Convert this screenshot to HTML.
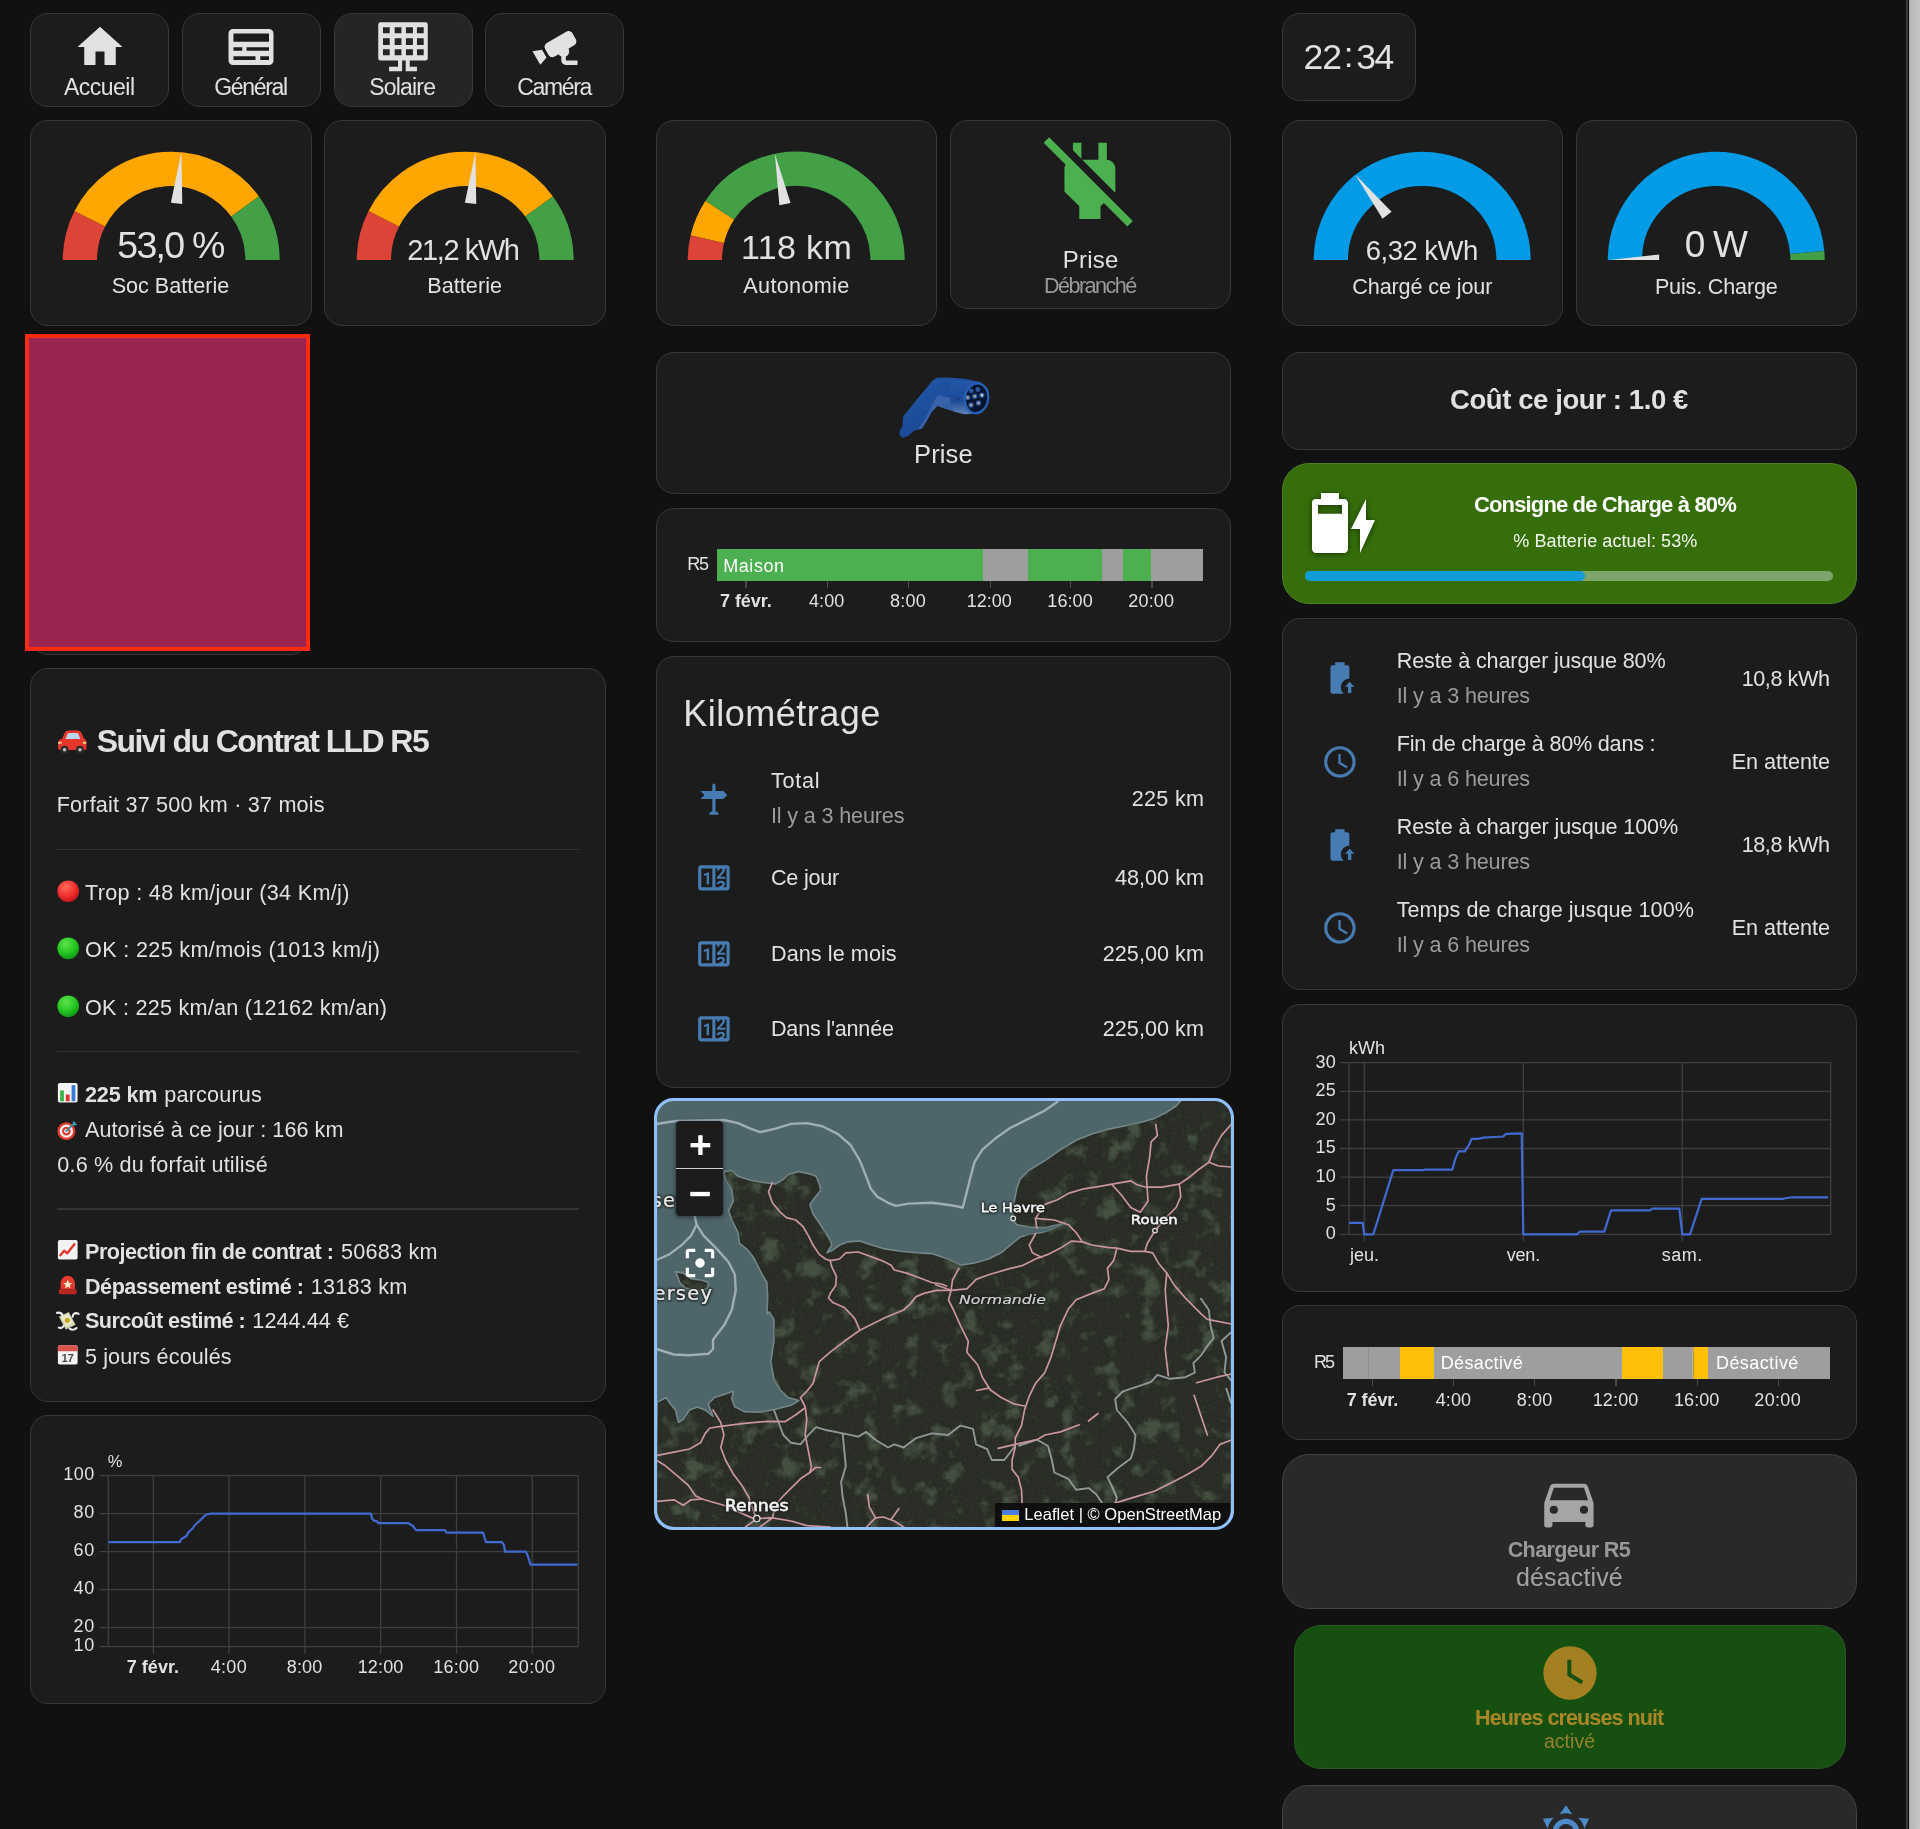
<!DOCTYPE html>
<html lang="fr"><head><meta charset="utf-8"><title>R5</title>
<style>
html{margin:0;padding:0;background:#111;}
body{margin:0;padding:0;background:transparent;will-change:transform;width:1920px;height:1829px;position:relative;overflow:hidden;font-family:"Liberation Sans",sans-serif;color:#e1e1e1;}
.card{position:absolute;box-sizing:border-box;background:#1c1c1c;border:1.5px solid #373737;border-radius:18px;}
.t{position:absolute;white-space:nowrap;}
.i{position:absolute;display:block;}
.abs{position:absolute;}
svg text{font-family:"Liberation Sans",sans-serif;}
svg .mapl text{font-family:"DejaVu Sans","Liberation Sans",sans-serif;}
.h{position:absolute;font-size:0;line-height:0;color:transparent;}
</style></head><body>

<div class="abs" style="left:1906px;top:0;width:1.5px;height:1829px;background:#3a3a3c"></div>
<div class="abs" style="left:1907.5px;top:0;width:1.5px;height:1829px;background:#050505"></div>
<div class="abs" style="left:1909px;top:0;width:11px;height:1829px;background:linear-gradient(90deg,#b0b0b0,#bdbdbd 40%,#c6c6c6)"></div>
<div class="card" style="left:30.0px;top:12.5px;width:139px;height:94px;"></div>
<div class="card" style="left:181.8px;top:12.5px;width:139px;height:94px;"></div>
<div class="card" style="left:333.6px;top:12.5px;width:139px;height:94px;background:#252525;"></div>
<div class="card" style="left:485.40000000000003px;top:12.5px;width:139px;height:94px;"></div>
<div class="card" style="left:1281.5px;top:12.5px;width:134px;height:88px;"></div>
<div class="card" style="left:30px;top:120px;width:281.5px;height:206px;"></div>
<div class="card" style="left:324.0px;top:120px;width:281.5px;height:206px;"></div>
<div class="card" style="left:655.5px;top:120px;width:281.5px;height:206px;"></div>
<div class="card" style="left:1281.5px;top:120px;width:281.5px;height:206px;"></div>
<div class="card" style="left:1575.5px;top:120px;width:281.5px;height:206px;"></div>
<div class="card" style="left:949.5px;top:120px;width:281.5px;height:188.5px;"></div>
<div class="card" style="left:30px;top:339.5px;width:279px;height:315.5px;"></div>
<div class="abs" style="left:24.8px;top:334px;width:285.4px;height:317px;box-sizing:border-box;background:#9b2552;border:4.4px solid #ff2a12"></div>
<div class="card" style="left:30px;top:667.5px;width:575.5px;height:734.5px;"></div>
<div class="card" style="left:30px;top:1415px;width:575.5px;height:289px;"></div>
<div class="card" style="left:655.5px;top:351.5px;width:575.5px;height:142px;"></div>
<div class="card" style="left:655.5px;top:507.5px;width:575.5px;height:134px;"></div>
<div class="card" style="left:655.5px;top:655.5px;width:575.5px;height:432px;"></div>
<div class="card" style="left:1281.5px;top:351.5px;width:575.5px;height:98px;"></div>
<div class="card" style="left:1281.5px;top:462.5px;width:575.5px;height:141.5px;background:#366f0a;border-color:#4d8126;border-radius:27px;"></div>
<div class="card" style="left:1281.5px;top:617.5px;width:575.5px;height:372px;"></div>
<div class="card" style="left:1281.5px;top:1003.5px;width:575.5px;height:288px;"></div>
<div class="card" style="left:1281.5px;top:1305px;width:575.5px;height:134.5px;"></div>
<div class="card" style="left:1281.5px;top:1453.5px;width:575.5px;height:155.5px;background:#292929;border-color:#434343;border-radius:27px;"></div>
<div class="card" style="left:1293.5px;top:1625px;width:552.5px;height:144px;background:#165011;border-color:#2c5527;border-radius:27px;"></div>
<div class="card" style="left:1281.5px;top:1785px;width:575.5px;height:120px;background:#292929;border-color:#434343;border-radius:27px;"></div>
<svg class="i" style="left:72.5px;top:20px;" width="54" height="54" viewBox="0 0 24 24"><path fill="#e1e1e1" d="M10,20V14H14V20H19V12H22L12,3L2,12H5V20H10Z"/></svg>
<svg class="i" style="left:224.3px;top:20px" width="54" height="54" viewBox="0 0 24 24"><path fill="#e1e1e1" fill-rule="evenodd" d="M4,4H20A2,2 0 0,1 22,6V18A2,2 0 0,1 20,20H4A2,2 0 0,1 2,18V6A2,2 0 0,1 4,4ZM4.2,6V9.7H20V6ZM4.2,12.1V13.7H8.1V12.1ZM10,12.1V13.7H20V12.1ZM4.2,16.1V17.8H14V16.1ZM16.1,16.1V17.8H20V16.1Z"/></svg>
<svg class="i" style="left:376.1px;top:20px" width="54" height="54" viewBox="0 0 24 24"><path fill="#e1e1e1" fill-rule="evenodd" d="M2,1H22A1,1 0 0,1 23,2V17A1,1 0 0,1 22,18H2A1,1 0 0,1 1,17V2A1,1 0 0,1 2,1ZM3.1,3.2V5.9H6.1V3.2ZM3.1,8.1V11.1H6.1V8.1ZM3.1,13.0V15.7H6.1V13.0ZM8.3,3.2V5.9H11.3V3.2ZM8.3,8.1V11.1H11.3V8.1ZM8.3,13.0V15.7H11.3V13.0ZM13.3,3.2V5.9H16.4V3.2ZM13.3,8.1V11.1H16.4V8.1ZM13.3,13.0V15.7H16.4V13.0ZM18.2,3.2V5.9H21.2V3.2ZM18.2,8.1V11.1H21.2V8.1ZM18.2,13.0V15.7H21.2V13.0ZM9.8,18H11.6V22.8H5.8V20.8H9.8ZM13.2,18H15V20.8H18.2V22.8H13.2Z"/></svg>
<svg class="i" style="left:527.9px;top:20px;" width="54" height="54" viewBox="0 0 24 24"><path fill="#e1e1e1" d="M18.15,4.94C17.77,4.91 17.37,5 17,5.2L8.35,10.2C7.39,10.76 7.07,12 7.62,12.94L9.12,15.53C9.67,16.5 10.89,16.82 11.85,16.27L13.65,15.23C13.92,15.69 14.32,16.06 14.81,16.27V18.04C14.81,19.13 15.7,20 16.81,20H22V18.04H16.81V16.27C17.72,15.87 18.31,14.97 18.31,14C18.31,13.54 18.19,13.11 17.97,12.73L20.5,11.27C21.47,10.71 21.8,9.5 21.25,8.53L19.75,5.94C19.4,5.34 18.79,5 18.15,4.94M6.22,13.17L2,13.87L2.75,15.17L4.75,18.63L5.5,19.93L8.22,16.63L6.22,13.17Z"/></svg>
<div class="t" style="left:64.0px;top:76.0px;font-size:23px;line-height:23px;color:#e1e1e1;letter-spacing:-0.524px;">Accueil</div>
<div class="t" style="left:214.3px;top:76.0px;font-size:23px;line-height:23px;color:#e1e1e1;letter-spacing:-1.355px;">Général</div>
<div class="t" style="left:369.3px;top:76.0px;font-size:23px;line-height:23px;color:#e1e1e1;letter-spacing:-0.816px;">Solaire</div>
<div class="t" style="left:517.3px;top:76.0px;font-size:23px;line-height:23px;color:#e1e1e1;letter-spacing:-1.361px;">Caméra</div>
<div class="t" style="left:1303.5px;top:40.0px;font-size:35.5px;line-height:35.5px;color:#e1e1e1;letter-spacing:-0.988px;">22</div>
<div class="t" style="left:1343.7px;top:37.0px;font-size:35px;line-height:35px;color:#e1e1e1;">:</div>
<div class="t" style="left:1356.3px;top:40.0px;font-size:35.5px;line-height:35.5px;color:#e1e1e1;letter-spacing:-1.488px;">34</div>
<svg class="i" style="left:56.55px;top:146.10px" width="228.40" height="114.20" viewBox="-50 -50 100 50"><path d="M-40.000 -0.000A40 40 0 0 1 -35.640 -18.160" fill="none" stroke="#db4437" stroke-width="15"/><path d="M-35.640 -18.160A40 40 0 0 1 32.361 -23.511" fill="none" stroke="#ffa600" stroke-width="15"/><path d="M32.361 -23.511A40 40 0 0 1 40.000 -0.000" fill="none" stroke="#43a047" stroke-width="15"/><path d="M-25 -2.5L-47.5 0L-25 2.5z" fill="#e1e1e1" transform="rotate(95.40)"/></svg>
<svg class="i" style="left:350.55px;top:146.10px" width="228.40" height="114.20" viewBox="-50 -50 100 50"><path d="M-40.000 -0.000A40 40 0 0 1 -35.640 -18.160" fill="none" stroke="#db4437" stroke-width="15"/><path d="M-35.640 -18.160A40 40 0 0 1 32.361 -23.511" fill="none" stroke="#ffa600" stroke-width="15"/><path d="M32.361 -23.511A40 40 0 0 1 40.000 -0.000" fill="none" stroke="#43a047" stroke-width="15"/><path d="M-25 -2.5L-47.5 0L-25 2.5z" fill="#e1e1e1" transform="rotate(95.40)"/></svg>
<svg class="i" style="left:682.05px;top:146.10px" width="228.40" height="114.20" viewBox="-50 -50 100 50"><path d="M-40.000 -0.000A40 40 0 0 1 -38.924 -9.216" fill="none" stroke="#db4437" stroke-width="15"/><path d="M-38.924 -9.216A40 40 0 0 1 -33.432 -21.961" fill="none" stroke="#ffa600" stroke-width="15"/><path d="M-33.432 -21.961A40 40 0 0 1 40.000 -0.000" fill="none" stroke="#43a047" stroke-width="15"/><path d="M-25 -2.5L-47.5 0L-25 2.5z" fill="#e1e1e1" transform="rotate(78.66)"/></svg>
<svg class="i" style="left:1308.05px;top:146.10px" width="228.40" height="114.20" viewBox="-50 -50 100 50"><path d="M-40.000 -0.000A40 40 0 0 1 40.000 -0.000" fill="none" stroke="#039be5" stroke-width="15"/><path d="M-25 -2.5L-47.5 0L-25 2.5z" fill="#e1e1e1" transform="rotate(52.02)"/></svg>
<svg class="i" style="left:1602.05px;top:146.10px" width="228.40" height="114.20" viewBox="-50 -50 100 50"><path d="M-40.000 -0.000A40 40 0 0 1 39.856 -3.389" fill="none" stroke="#039be5" stroke-width="15"/><path d="M39.856 -3.389A40 40 0 0 1 40.000 -0.000" fill="none" stroke="#43a047" stroke-width="15"/><path d="M-25 -2.5L-47.5 0L-25 2.5z" fill="#e1e1e1" transform="rotate(0.00)"/></svg>
<div class="t" style="left:117.3px;top:227.0px;font-size:37.5px;line-height:37.5px;color:#e1e1e1;letter-spacing:-1.750px;">53,0 %</div>
<div class="t" style="left:407.3px;top:236.0px;font-size:29px;line-height:29px;color:#e1e1e1;letter-spacing:-1.400px;">21,2 kWh</div>
<div class="t" style="left:741.0px;top:230.0px;font-size:34px;line-height:34px;color:#e1e1e1;letter-spacing:0.345px;">118 km</div>
<div class="t" style="left:1365.8px;top:237.0px;font-size:27.5px;line-height:27.5px;color:#e1e1e1;letter-spacing:-0.538px;">6,32 kWh</div>
<div class="t" style="left:1684.7px;top:226.0px;font-size:37px;line-height:37px;color:#e1e1e1;letter-spacing:-1.240px;">0 W</div>
<div class="t" style="left:111.7px;top:275.0px;font-size:21.6px;line-height:21.6px;color:#e1e1e1;letter-spacing:-0.006px;">Soc Batterie</div>
<div class="t" style="left:427.3px;top:275.0px;font-size:21.6px;line-height:21.6px;color:#e1e1e1;letter-spacing:0.037px;">Batterie</div>
<div class="t" style="left:743.3px;top:275.0px;font-size:21.6px;line-height:21.6px;color:#e1e1e1;letter-spacing:0.341px;">Autonomie</div>
<div class="t" style="left:1352.3px;top:276.0px;font-size:21.6px;line-height:21.6px;color:#e1e1e1;letter-spacing:-0.122px;">Chargé ce jour</div>
<div class="t" style="left:1654.9px;top:276.0px;font-size:21.6px;line-height:21.6px;color:#e1e1e1;letter-spacing:-0.179px;">Puis. Charge</div>
<svg class="i" style="left:1039.3px;top:130px;" width="101.8" height="101.8" viewBox="0 0 24 24"><path fill="#4caf50" d="M22.11 21.46L2.39 1.73L1.11 3L6.25 8.14C6.1 8.41 6 8.7 6 9V14.5L9.5 18V21H14.5V18L15.31 17.19L20.84 22.73L22.11 21.46M18 14.5V9C18 8 17 7 16 7V3H14V7H10.2L17.85 14.65C17.94 14.6 18 14.55 18 14.5M10 3H8V4.8L10 6.8V3Z"/></svg>
<div class="t" style="left:1062.7px;top:248.0px;font-size:24px;line-height:24px;color:#e1e1e1;letter-spacing:0.229px;">Prise</div>
<div class="t" style="left:1044.0px;top:275.0px;font-size:21.6px;line-height:21.6px;color:#9b9b9b;letter-spacing:-1.547px;">Débranché</div>
<svg class="i" style="left:56px;top:724.8px" width="32.5" height="32.5" viewBox="0 0 24 24"><path d="M1.5 13.5c0-2 1.2-3 3-3.4l2-4.3C7 4.6 8 4 9.3 4h6.4c1.4 0 2.6.8 3.2 2l1.8 4c1.3.5 1.8 1.6 1.8 3v4.2c0 .7-.5 1.2-1.2 1.2H2.7c-.7 0-1.2-.5-1.2-1.2z" fill="#e6362b"/><path d="M7 10.3l1.5-3.6c.2-.5.6-.8 1.2-.8h5.6c.6 0 1.1.3 1.3.9l1.4 3.5z" fill="#b9d6ea"/><circle cx="6.3" cy="18.3" r="2.9" fill="#2b2b2b"/><circle cx="6.3" cy="18.3" r="1.3" fill="#bbb"/><circle cx="17.7" cy="18.3" r="2.9" fill="#2b2b2b"/><circle cx="17.7" cy="18.3" r="1.3" fill="#bbb"/><rect x="1.6" y="12.3" width="2.6" height="1.6" rx=".7" fill="#ffd98a"/><rect x="19.8" y="12.3" width="2.6" height="1.6" rx=".7" fill="#ffd98a"/></svg><span class="h">🚗</span>
<div class="t" style="left:96.7px;top:725.0px;font-size:32px;line-height:32px;color:#e1e1e1;font-weight:700;letter-spacing:-1.591px;">Suivi du Contrat LLD R5</div>
<div class="t" style="left:56.7px;top:794.0px;font-size:21.6px;line-height:21.6px;color:#e1e1e1;letter-spacing:0.196px;">Forfait 37 500 km · 37 mois</div>
<div class="abs" style="left:56.5px;top:848.55px;width:522px;height:1.5px;background:#333"></div>
<svg class="i" style="left:56.5px;top:879.5px" width="22.5" height="22.5" viewBox="0 0 24 24"><defs><radialGradient id="gff6a5c" cx=".4" cy=".3" r=".75"><stop offset="0" stop-color="#ff6a5c"/><stop offset=".6" stop-color="#ee2d2a"/><stop offset="1" stop-color="#b5121b"/></radialGradient></defs><circle cx="12" cy="12" r="11.6" fill="url(#gff6a5c)"/></svg><span class="h">🔴</span>
<div class="t" style="left:85.0px;top:882.0px;font-size:21.6px;line-height:21.6px;color:#e1e1e1;letter-spacing:0.324px;">Trop : 48 km/jour (34 Km/j)</div>
<svg class="i" style="left:56.5px;top:937px" width="22.5" height="22.5" viewBox="0 0 24 24"><defs><radialGradient id="g5fe34a" cx=".4" cy=".3" r=".75"><stop offset="0" stop-color="#5fe34a"/><stop offset=".6" stop-color="#21c420"/><stop offset="1" stop-color="#0f8f17"/></radialGradient></defs><circle cx="12" cy="12" r="11.6" fill="url(#g5fe34a)"/></svg><span class="h">🟢</span>
<div class="t" style="left:85.0px;top:939.0px;font-size:21.6px;line-height:21.6px;color:#e1e1e1;letter-spacing:0.345px;">OK : 225 km/mois (1013 km/j)</div>
<svg class="i" style="left:56.5px;top:994.5px" width="22.5" height="22.5" viewBox="0 0 24 24"><defs><radialGradient id="g5fe34a" cx=".4" cy=".3" r=".75"><stop offset="0" stop-color="#5fe34a"/><stop offset=".6" stop-color="#21c420"/><stop offset="1" stop-color="#0f8f17"/></radialGradient></defs><circle cx="12" cy="12" r="11.6" fill="url(#g5fe34a)"/></svg><span class="h">🟢</span>
<div class="t" style="left:85.0px;top:997.0px;font-size:21.6px;line-height:21.6px;color:#e1e1e1;letter-spacing:0.246px;">OK : 225 km/an (12162 km/an)</div>
<div class="abs" style="left:56.5px;top:1050.95px;width:522px;height:1.5px;background:#333"></div>
<svg class="i" style="left:57px;top:1081.8px" width="21.5" height="21.5" viewBox="0 0 24 24"><rect x="1" y="1" width="22" height="22" rx="2" fill="#f2f2f2"/><rect x="3.5" y="9.5" width="4.2" height="12" fill="#38b24a"/><rect x="9.9" y="14" width="4.2" height="7.5" fill="#e0352b"/><rect x="16.3" y="3.5" width="4.2" height="18" fill="#3a7bd5"/></svg><span class="h">📊</span>
<div class="t" style="left:85.0px;top:1084.0px;font-size:21.6px;line-height:21.6px;color:#e1e1e1;font-weight:700;letter-spacing:-0.152px;">225 km</div>
<div class="t" style="left:164.3px;top:1084.0px;font-size:21.6px;line-height:21.6px;color:#e1e1e1;letter-spacing:0.181px;">parcourus</div>
<svg class="i" style="left:56.5px;top:1117.5px" width="22.5" height="22.5" viewBox="0 0 24 24"><circle cx="10" cy="14" r="9.5" fill="#e33b30"/><circle cx="10" cy="14" r="7" fill="#f3f3f3"/><circle cx="10" cy="14" r="4.6" fill="#e33b30"/><circle cx="10" cy="14" r="2.3" fill="#f3f3f3"/><path d="M10 14L19 5" stroke="#3c8fa0" stroke-width="2" stroke-linecap="round"/><path d="M17 2l1.5 3.5L22 7l-3.8 1.2L17 6z" fill="#3fa5b8"/></svg><span class="h">🎯</span>
<div class="t" style="left:85.0px;top:1119.0px;font-size:21.6px;line-height:21.6px;color:#e1e1e1;letter-spacing:0.061px;">Autorisé à ce jour : 166 km</div>
<div class="t" style="left:57.3px;top:1154.0px;font-size:21.6px;line-height:21.6px;color:#e1e1e1;letter-spacing:0.173px;">0.6 % du forfait utilisé</div>
<div class="abs" style="left:56.5px;top:1208.25px;width:522px;height:1.5px;background:#333"></div>
<svg class="i" style="left:57px;top:1238.8px" width="21.5" height="21.5" viewBox="0 0 24 24"><rect x="1" y="1" width="22" height="22" rx="2" fill="#f2f2f2"/><path d="M3 19l5-6 3.5 3L20 5" fill="none" stroke="#e0352b" stroke-width="2.6" stroke-linejoin="round"/></svg><span class="h">📈</span>
<div class="t" style="left:85.0px;top:1241.0px;font-size:21.6px;line-height:21.6px;color:#e1e1e1;font-weight:700;letter-spacing:-0.485px;">Projection fin de contrat :</div>
<div class="t" style="left:341.0px;top:1241.0px;font-size:21.6px;line-height:21.6px;color:#e1e1e1;letter-spacing:0.234px;">50683 km</div>
<svg class="i" style="left:57px;top:1273.8px" width="21.5" height="21.5" viewBox="0 0 24 24"><path d="M4 17V10a8 8 0 0116 0v7z" fill="#e63a30"/><rect x="2" y="17" width="20" height="5.5" rx="1.5" fill="#b9251f"/><path d="M12 6.5l1.4 3.4 3.6.3-2.8 2.3.9 3.5-3.1-1.9-3.1 1.9.9-3.5L7 10.2l3.6-.3z" fill="#ffe9c9"/></svg><span class="h">🚨</span>
<div class="t" style="left:85.0px;top:1276.0px;font-size:21.6px;line-height:21.6px;color:#e1e1e1;font-weight:700;letter-spacing:-0.479px;">Dépassement estimé :</div>
<div class="t" style="left:310.7px;top:1276.0px;font-size:21.6px;line-height:21.6px;color:#e1e1e1;letter-spacing:0.234px;">13183 km</div>
<svg class="i" style="left:56px;top:1308px" width="23.5" height="23.5" viewBox="0 0 24 24"><path d="M3 9l10-5 7 13-10 5z" fill="#cfd8b0"/><path d="M5.5 9.6l7-3.4 5 9.2-7 3.4z" fill="#e8eccb"/><circle cx="11.5" cy="12.6" r="2.6" fill="#c9a227"/><path d="M1 5c3-1 5 0 6 3M23 6c-3-2-6 0-6 3M14 21c2 1.5 5 1.5 7-.5M3 20c2 1 4 0 5-2" stroke="#e9e9e9" stroke-width="2.2" fill="none" stroke-linecap="round"/></svg><span class="h">💸</span>
<div class="t" style="left:85.0px;top:1310.0px;font-size:21.6px;line-height:21.6px;color:#e1e1e1;font-weight:700;letter-spacing:-0.569px;">Surcoût estimé :</div>
<div class="t" style="left:252.3px;top:1310.0px;font-size:21.6px;line-height:21.6px;color:#e1e1e1;letter-spacing:0.076px;">1244.44 €</div>
<svg class="i" style="left:57px;top:1343.8px" width="21.5" height="21.5" viewBox="0 0 24 24"><rect x="1" y="1.5" width="22" height="21.5" rx="2" fill="#f2f2f2"/><path d="M1 3.5a2 2 0 012-2h18a2 2 0 012 2V8H1z" fill="#d9534f"/><text x="12" y="20.5" font-size="12" text-anchor="middle" fill="#444" font-weight="700">17</text></svg><span class="h">📅</span>
<div class="t" style="left:85.0px;top:1346.0px;font-size:21.6px;line-height:21.6px;color:#e1e1e1;letter-spacing:0.101px;">5 jours écoulés</div>
<svg class="i" style="left:0;top:0" width="1906" height="1829" viewBox="0 0 1906 1829">
<path d="M99.3 1475.7H578.3M99.3 1513.7H578.3M99.3 1551.7H578.3M99.3 1589.7H578.3M99.3 1627.7H578.3M99.3 1646.7H578.3M153.3 1475.7V1653.7M229.1 1475.7V1653.7M304.9 1475.7V1653.7M380.7 1475.7V1653.7M456.5 1475.7V1653.7M532.3 1475.7V1653.7M108.3 1475.7V1646.7M578.3 1475.7V1646.7" stroke="#3f3f3f" stroke-width="1.3" fill="none"/>
<path d="M108.3 1542.2L180.0 1542.2L181.0 1539.4L184.0 1537.5L187.0 1535.5L188.0 1532.7L193.0 1528.0L194.0 1526.0L198.0 1522.2L200.0 1520.4L204.0 1516.5L206.0 1514.7L210.0 1513.7L371.0 1513.7L372.0 1518.5L374.0 1520.7L377.0 1521.3L378.5 1523.2L408.5 1523.2L410.0 1524.2L413.0 1526.0L416.0 1530.2L445.0 1530.2L446.5 1532.7L483.0 1532.7L484.5 1537.5L486.0 1542.2L502.0 1542.2L504.0 1545.0L505.0 1551.7L526.0 1551.7L528.0 1556.5L530.5 1564.6L577.5 1564.6" stroke="#4269d0" stroke-width="2.2" fill="none" stroke-linejoin="round"/>
</svg>
<div class="t" style="left:63.3px;top:1465.0px;font-size:18px;line-height:18px;color:#e1e1e1;letter-spacing:0.483px;">100</div>
<div class="t" style="left:73.6px;top:1503.0px;font-size:18px;line-height:18px;color:#e1e1e1;letter-spacing:0.678px;">80</div>
<div class="t" style="left:73.6px;top:1541.0px;font-size:18px;line-height:18px;color:#e1e1e1;letter-spacing:0.678px;">60</div>
<div class="t" style="left:73.6px;top:1579.0px;font-size:18px;line-height:18px;color:#e1e1e1;letter-spacing:0.678px;">40</div>
<div class="t" style="left:73.6px;top:1617.0px;font-size:18px;line-height:18px;color:#e1e1e1;letter-spacing:0.678px;">20</div>
<div class="t" style="left:73.6px;top:1636.0px;font-size:18px;line-height:18px;color:#e1e1e1;letter-spacing:0.678px;">10</div>
<div class="t" style="left:107.7px;top:1453.0px;font-size:16.5px;line-height:16.5px;color:#e1e1e1;">%</div>
<div class="t" style="left:126.7px;top:1658.0px;font-size:18px;line-height:18px;color:#e1e1e1;font-weight:700;letter-spacing:0.043px;">7 févr.</div>
<div class="t" style="left:210.7px;top:1658.0px;font-size:18px;line-height:18px;color:#e1e1e1;letter-spacing:0.322px;">4:00</div>
<div class="t" style="left:286.7px;top:1658.0px;font-size:18px;line-height:18px;color:#e1e1e1;letter-spacing:0.189px;">8:00</div>
<div class="t" style="left:357.7px;top:1658.0px;font-size:18px;line-height:18px;color:#e1e1e1;letter-spacing:0.139px;">12:00</div>
<div class="t" style="left:433.3px;top:1658.0px;font-size:18px;line-height:18px;color:#e1e1e1;letter-spacing:0.164px;">16:00</div>
<div class="t" style="left:508.3px;top:1658.0px;font-size:18px;line-height:18px;color:#e1e1e1;letter-spacing:0.414px;">20:00</div>
<svg class="i" style="left:0;top:0" width="1906" height="1829" viewBox="0 0 1906 1829">
<path d="M1340 1234.3H1830.7M1340 1205.7H1830.7M1340 1177.1H1830.7M1340 1148.5H1830.7M1340 1119.9H1830.7M1340 1091.3H1830.7M1340 1062.7H1830.7M1364.3 1062.7V1241.3M1523.3 1062.7V1241.3M1682.3 1062.7V1241.3M1349 1062.7V1234.3M1830.7 1062.7V1234.3" stroke="#3f3f3f" stroke-width="1.3" fill="none"/>
<path d="M1349.0 1222.9L1362.7 1222.9L1364.3 1234.3L1373.3 1234.3L1393.3 1170.2L1423.3 1170.2L1425.0 1169.7L1452.3 1169.7L1455.3 1158.8L1458.7 1151.4L1465.0 1151.4L1467.3 1147.4L1468.7 1145.6L1471.7 1138.8L1478.3 1138.8L1483.3 1137.6L1503.3 1136.5L1505.3 1134.2L1508.3 1133.9L1521.7 1133.3L1523.3 1234.3L1576.7 1234.3L1580.0 1231.7L1604.3 1231.7L1611.0 1210.3L1650.0 1210.3L1652.7 1208.6L1679.3 1208.6L1682.3 1234.3L1690.0 1234.3L1701.7 1198.8L1783.3 1198.8L1786.7 1198.0L1791.7 1197.4L1828.3 1197.4" stroke="#4269d0" stroke-width="2.2" fill="none" stroke-linejoin="round"/>
</svg>
<div class="t" style="left:1325.7px;top:1224.0px;font-size:18px;line-height:18px;color:#e1e1e1;">0</div>
<div class="t" style="left:1325.7px;top:1196.0px;font-size:18px;line-height:18px;color:#e1e1e1;">5</div>
<div class="t" style="left:1315.4px;top:1167.0px;font-size:18px;line-height:18px;color:#e1e1e1;letter-spacing:0.278px;">10</div>
<div class="t" style="left:1315.4px;top:1138.0px;font-size:18px;line-height:18px;color:#e1e1e1;letter-spacing:0.278px;">15</div>
<div class="t" style="left:1315.4px;top:1110.0px;font-size:18px;line-height:18px;color:#e1e1e1;letter-spacing:0.278px;">20</div>
<div class="t" style="left:1315.4px;top:1081.0px;font-size:18px;line-height:18px;color:#e1e1e1;letter-spacing:0.278px;">25</div>
<div class="t" style="left:1315.4px;top:1053.0px;font-size:18px;line-height:18px;color:#e1e1e1;letter-spacing:0.278px;">30</div>
<div class="t" style="left:1349.0px;top:1039.0px;font-size:18px;line-height:18px;color:#e1e1e1;">kWh</div>
<div class="t" style="left:1350.0px;top:1246.0px;font-size:18px;line-height:18px;color:#e1e1e1;letter-spacing:-0.007px;">jeu.</div>
<div class="t" style="left:1506.7px;top:1246.0px;font-size:18px;line-height:18px;color:#e1e1e1;letter-spacing:-0.174px;">ven.</div>
<div class="t" style="left:1661.7px;top:1246.0px;font-size:18px;line-height:18px;color:#e1e1e1;letter-spacing:0.531px;">sam.</div>
<div class="abs" style="left:716.7px;top:549.3px;width:486.6px;height:31.4px;background:#9e9e9e"></div>
<div class="abs" style="left:716.7px;top:549.3px;width:266.6px;height:31.4px;background:#4caf50"></div>
<div class="abs" style="left:1027.7px;top:549.3px;width:74.0px;height:31.4px;background:#4caf50"></div>
<div class="abs" style="left:1123.3px;top:549.3px;width:27.4px;height:31.4px;background:#4caf50"></div>
<div class="abs" style="left:745.4px;top:580.6999999999999px;width:1.3px;height:7px;background:#4a4a4a"></div>
<div class="abs" style="left:826.8px;top:580.6999999999999px;width:1.3px;height:7px;background:#4a4a4a"></div>
<div class="abs" style="left:908.2px;top:580.6999999999999px;width:1.3px;height:7px;background:#4a4a4a"></div>
<div class="abs" style="left:989.6px;top:580.6999999999999px;width:1.3px;height:7px;background:#4a4a4a"></div>
<div class="abs" style="left:1070.0px;top:580.6999999999999px;width:1.3px;height:7px;background:#4a4a4a"></div>
<div class="abs" style="left:1151.4px;top:580.6999999999999px;width:1.3px;height:7px;background:#4a4a4a"></div>
<div class="t" style="left:687.3px;top:555.0px;font-size:18px;line-height:18px;color:#e1e1e1;letter-spacing:-1.310px;">R5</div>
<div class="t" style="left:723.3px;top:557.0px;font-size:18px;line-height:18px;color:#fff;letter-spacing:0.534px;">Maison</div>
<div class="t" style="left:720.0px;top:592.0px;font-size:18px;line-height:18px;color:#e1e1e1;font-weight:700;letter-spacing:-0.057px;">7 févr.</div>
<div class="t" style="left:809.0px;top:592.0px;font-size:18px;line-height:18px;color:#e1e1e1;letter-spacing:0.089px;">4:00</div>
<div class="t" style="left:890.0px;top:592.0px;font-size:18px;line-height:18px;color:#e1e1e1;letter-spacing:0.222px;">8:00</div>
<div class="t" style="left:966.7px;top:592.0px;font-size:18px;line-height:18px;color:#e1e1e1;letter-spacing:-0.011px;">12:00</div>
<div class="t" style="left:1047.3px;top:592.0px;font-size:18px;line-height:18px;color:#e1e1e1;letter-spacing:0.089px;">16:00</div>
<div class="t" style="left:1128.3px;top:592.0px;font-size:18px;line-height:18px;color:#e1e1e1;letter-spacing:0.164px;">20:00</div>
<div class="abs" style="left:1343.3px;top:1347.3px;width:486.7px;height:31.4px;background:#9e9e9e"></div>
<div class="abs" style="left:1400.0px;top:1347.3px;width:34.0px;height:31.4px;background:#ffc107"></div>
<div class="abs" style="left:1622.3px;top:1347.3px;width:40.4px;height:31.4px;background:#ffc107"></div>
<div class="abs" style="left:1694.0px;top:1347.3px;width:14.3px;height:31.4px;background:#ffc107"></div>
<div class="abs" style="left:1691.7px;top:1347.3px;width:1.3px;height:31.4px;background:#e0b030"></div>
<div class="abs" style="left:1368.3px;top:1347.3px;width:0.9px;height:31.4px;background:#8f8f8f"></div>
<div class="abs" style="left:1371.7px;top:1378.7px;width:1.3px;height:7px;background:#4a4a4a"></div>
<div class="abs" style="left:1452.9px;top:1378.7px;width:1.3px;height:7px;background:#4a4a4a"></div>
<div class="abs" style="left:1534.1px;top:1378.7px;width:1.3px;height:7px;background:#4a4a4a"></div>
<div class="abs" style="left:1615.3px;top:1378.7px;width:1.3px;height:7px;background:#4a4a4a"></div>
<div class="abs" style="left:1696.5px;top:1378.7px;width:1.3px;height:7px;background:#4a4a4a"></div>
<div class="abs" style="left:1777.7px;top:1378.7px;width:1.3px;height:7px;background:#4a4a4a"></div>
<div class="t" style="left:1314.0px;top:1353.0px;font-size:18px;line-height:18px;color:#e1e1e1;letter-spacing:-2.010px;">R5</div>
<div class="t" style="left:1440.7px;top:1354.0px;font-size:18px;line-height:18px;color:#fff;letter-spacing:0.371px;">Désactivé</div>
<div class="t" style="left:1716.0px;top:1354.0px;font-size:18px;line-height:18px;color:#fff;letter-spacing:0.408px;">Désactivé</div>
<div class="t" style="left:1346.7px;top:1391.0px;font-size:18px;line-height:18px;color:#e1e1e1;font-weight:700;letter-spacing:-0.074px;">7 févr.</div>
<div class="t" style="left:1435.7px;top:1391.0px;font-size:18px;line-height:18px;color:#e1e1e1;letter-spacing:0.089px;">4:00</div>
<div class="t" style="left:1516.7px;top:1391.0px;font-size:18px;line-height:18px;color:#e1e1e1;letter-spacing:0.189px;">8:00</div>
<div class="t" style="left:1592.7px;top:1391.0px;font-size:18px;line-height:18px;color:#e1e1e1;letter-spacing:0.139px;">12:00</div>
<div class="t" style="left:1674.0px;top:1391.0px;font-size:18px;line-height:18px;color:#e1e1e1;letter-spacing:0.064px;">16:00</div>
<div class="t" style="left:1754.3px;top:1391.0px;font-size:18px;line-height:18px;color:#e1e1e1;letter-spacing:0.339px;">20:00</div>
<div class="t" style="left:683.3px;top:696.0px;font-size:36px;line-height:36px;color:#e1e1e1;letter-spacing:0.490px;">Kilométrage</div>
<svg class="i" style="left:695.1px;top:780.1px;" width="37.8" height="37.8" viewBox="0 0 24 24"><path fill="#467cb2" d="M11,12H3.5L6,9.5L3.5,7H11V3L12,2L13,3V7H18L20.5,9.5L18,12H13V20A2,2 0 0,1 15,22H9A2,2 0 0,1 11,20V12Z"/></svg>
<div class="t" style="left:771.0px;top:770.0px;font-size:21.6px;line-height:21.6px;color:#e1e1e1;letter-spacing:0.718px;">Total</div>
<div class="t" style="left:771.0px;top:805.0px;font-size:21.6px;line-height:21.6px;color:#9b9b9b;letter-spacing:-0.155px;">Il y a 3 heures</div>
<div class="t" style="left:1131.7px;top:788.0px;font-size:21.6px;line-height:21.6px;color:#e1e1e1;letter-spacing:0.293px;">225 km</div>
<svg class="i" style="left:695.1px;top:859.4px;" width="37.8" height="37.8" viewBox="0 0 24 24"><path fill="#467cb2" d="M4,4H20A2,2 0 0,1 22,6V18A2,2 0 0,1 20,20H4A2,2 0 0,1 2,18V6A2,2 0 0,1 4,4M4,6V18H11V6H4M20,18V6H18.76C19,6.54 18.95,7.07 18.95,7.13C18.88,7.8 18.41,8.5 18.24,8.75L15.91,11.3L19.23,11.28L19.24,12.5L14.04,12.47L14,11.47C14,11.47 17.05,8.24 17.2,7.95C17.34,7.67 17.91,6 16.5,6C15.27,6.05 15.41,7.3 15.41,7.3L13.87,7.31C13.87,7.31 13.88,6.65 14.25,6H13V18H15.58L15.57,17.14L16.54,17.13C16.54,17.13 17.45,16.97 17.46,16.08C17.5,15.08 16.65,15.08 16.5,15.08C16.37,15.08 15.43,15.13 15.43,15.95H13.91C13.91,15.95 13.95,13.89 16.5,13.89C19.1,13.89 18.96,15.91 18.96,15.91C18.96,15.91 19,17.16 17.85,17.63L18.37,18H20M8.92,16H7.42V10.2L5.62,10.76V9.53L8.76,8.41H8.92V16Z"/></svg>
<div class="t" style="left:771.0px;top:867.0px;font-size:21.6px;line-height:21.6px;color:#e1e1e1;letter-spacing:-0.222px;">Ce jour</div>
<div class="t" style="left:1115.0px;top:867.0px;font-size:21.6px;line-height:21.6px;color:#e1e1e1;letter-spacing:0.022px;">48,00 km</div>
<svg class="i" style="left:695.1px;top:935.1px;" width="37.8" height="37.8" viewBox="0 0 24 24"><path fill="#467cb2" d="M4,4H20A2,2 0 0,1 22,6V18A2,2 0 0,1 20,20H4A2,2 0 0,1 2,18V6A2,2 0 0,1 4,4M4,6V18H11V6H4M20,18V6H18.76C19,6.54 18.95,7.07 18.95,7.13C18.88,7.8 18.41,8.5 18.24,8.75L15.91,11.3L19.23,11.28L19.24,12.5L14.04,12.47L14,11.47C14,11.47 17.05,8.24 17.2,7.95C17.34,7.67 17.91,6 16.5,6C15.27,6.05 15.41,7.3 15.41,7.3L13.87,7.31C13.87,7.31 13.88,6.65 14.25,6H13V18H15.58L15.57,17.14L16.54,17.13C16.54,17.13 17.45,16.97 17.46,16.08C17.5,15.08 16.65,15.08 16.5,15.08C16.37,15.08 15.43,15.13 15.43,15.95H13.91C13.91,15.95 13.95,13.89 16.5,13.89C19.1,13.89 18.96,15.91 18.96,15.91C18.96,15.91 19,17.16 17.85,17.63L18.37,18H20M8.92,16H7.42V10.2L5.62,10.76V9.53L8.76,8.41H8.92V16Z"/></svg>
<div class="t" style="left:771.0px;top:943.0px;font-size:21.6px;line-height:21.6px;color:#e1e1e1;letter-spacing:0.078px;">Dans le mois</div>
<div class="t" style="left:1102.7px;top:943.0px;font-size:21.6px;line-height:21.6px;color:#e1e1e1;letter-spacing:0.055px;">225,00 km</div>
<svg class="i" style="left:695.1px;top:1010.4px;" width="37.8" height="37.8" viewBox="0 0 24 24"><path fill="#467cb2" d="M4,4H20A2,2 0 0,1 22,6V18A2,2 0 0,1 20,20H4A2,2 0 0,1 2,18V6A2,2 0 0,1 4,4M4,6V18H11V6H4M20,18V6H18.76C19,6.54 18.95,7.07 18.95,7.13C18.88,7.8 18.41,8.5 18.24,8.75L15.91,11.3L19.23,11.28L19.24,12.5L14.04,12.47L14,11.47C14,11.47 17.05,8.24 17.2,7.95C17.34,7.67 17.91,6 16.5,6C15.27,6.05 15.41,7.3 15.41,7.3L13.87,7.31C13.87,7.31 13.88,6.65 14.25,6H13V18H15.58L15.57,17.14L16.54,17.13C16.54,17.13 17.45,16.97 17.46,16.08C17.5,15.08 16.65,15.08 16.5,15.08C16.37,15.08 15.43,15.13 15.43,15.95H13.91C13.91,15.95 13.95,13.89 16.5,13.89C19.1,13.89 18.96,15.91 18.96,15.91C18.96,15.91 19,17.16 17.85,17.63L18.37,18H20M8.92,16H7.42V10.2L5.62,10.76V9.53L8.76,8.41H8.92V16Z"/></svg>
<div class="t" style="left:771.0px;top:1018.0px;font-size:21.6px;line-height:21.6px;color:#e1e1e1;letter-spacing:-0.220px;">Dans l'année</div>
<div class="t" style="left:1102.7px;top:1018.0px;font-size:21.6px;line-height:21.6px;color:#e1e1e1;letter-spacing:0.055px;">225,00 km</div>
<svg class="i" style="left:1320.7px;top:659.4px" width="37.8" height="37.8" viewBox="0 0 24 24"><path fill="#467cb2" d="M16.67,4H15V2H9V4H7.33A1.33,1.33 0 0,0 6,5.33V20.67C6,21.4 6.6,22 7.33,22H16.67C17.4,22 18,21.4 18,20.67V5.33C18,4.6 17.4,4 16.67,4Z"/><circle cx="18.2" cy="18" r="5.6" fill="#1c1c1c"/><path fill="#467cb2" d="M18.2,14.4L21.2,17.6H19.3V21.6H17.1V17.6H15.2Z"/></svg>
<div class="t" style="left:1396.7px;top:650.0px;font-size:21.6px;line-height:21.6px;color:#e1e1e1;letter-spacing:-0.143px;">Reste à charger jusque 80%</div>
<div class="t" style="left:1396.7px;top:685.0px;font-size:21.6px;line-height:21.6px;color:#9b9b9b;letter-spacing:-0.155px;">Il y a 3 heures</div>
<div class="t" style="left:1741.7px;top:668.0px;font-size:21.6px;line-height:21.6px;color:#e1e1e1;letter-spacing:-0.420px;">10,8 kWh</div>
<svg class="i" style="left:1320.6999999999998px;top:742.8000000000001px;" width="37.8" height="37.8" viewBox="0 0 24 24"><path fill="#467cb2" d="M12,20A8,8 0 0,0 20,12A8,8 0 0,0 12,4A8,8 0 0,0 4,12A8,8 0 0,0 12,20M12,2A10,10 0 0,1 22,12A10,10 0 0,1 12,22C6.47,22 2,17.5 2,12A10,10 0 0,1 12,2M12.5,7V12.25L17,14.92L16.25,16.15L11,13V7H12.5Z"/></svg>
<div class="t" style="left:1396.7px;top:733.0px;font-size:21.6px;line-height:21.6px;color:#e1e1e1;letter-spacing:-0.207px;">Fin de charge à 80% dans :</div>
<div class="t" style="left:1396.7px;top:768.0px;font-size:21.6px;line-height:21.6px;color:#9b9b9b;letter-spacing:-0.155px;">Il y a 6 heures</div>
<div class="t" style="left:1731.7px;top:751.0px;font-size:21.6px;line-height:21.6px;color:#e1e1e1;letter-spacing:-0.020px;">En attente</div>
<svg class="i" style="left:1320.7px;top:826.1px" width="37.8" height="37.8" viewBox="0 0 24 24"><path fill="#467cb2" d="M16.67,4H15V2H9V4H7.33A1.33,1.33 0 0,0 6,5.33V20.67C6,21.4 6.6,22 7.33,22H16.67C17.4,22 18,21.4 18,20.67V5.33C18,4.6 17.4,4 16.67,4Z"/><circle cx="18.2" cy="18" r="5.6" fill="#1c1c1c"/><path fill="#467cb2" d="M18.2,14.4L21.2,17.6H19.3V21.6H17.1V17.6H15.2Z"/></svg>
<div class="t" style="left:1396.7px;top:816.0px;font-size:21.6px;line-height:21.6px;color:#e1e1e1;letter-spacing:-0.115px;">Reste à charger jusque 100%</div>
<div class="t" style="left:1396.7px;top:851.0px;font-size:21.6px;line-height:21.6px;color:#9b9b9b;letter-spacing:-0.155px;">Il y a 3 heures</div>
<div class="t" style="left:1741.7px;top:834.0px;font-size:21.6px;line-height:21.6px;color:#e1e1e1;letter-spacing:-0.420px;">18,8 kWh</div>
<svg class="i" style="left:1320.6999999999998px;top:908.8000000000001px;" width="37.8" height="37.8" viewBox="0 0 24 24"><path fill="#467cb2" d="M12,20A8,8 0 0,0 20,12A8,8 0 0,0 12,4A8,8 0 0,0 4,12A8,8 0 0,0 12,20M12,2A10,10 0 0,1 22,12A10,10 0 0,1 12,22C6.47,22 2,17.5 2,12A10,10 0 0,1 12,2M12.5,7V12.25L17,14.92L16.25,16.15L11,13V7H12.5Z"/></svg>
<div class="t" style="left:1396.7px;top:899.0px;font-size:21.6px;line-height:21.6px;color:#e1e1e1;letter-spacing:0.027px;">Temps de charge jusque 100%</div>
<div class="t" style="left:1396.7px;top:934.0px;font-size:21.6px;line-height:21.6px;color:#9b9b9b;letter-spacing:-0.155px;">Il y a 6 heures</div>
<div class="t" style="left:1731.7px;top:917.0px;font-size:21.6px;line-height:21.6px;color:#e1e1e1;letter-spacing:-0.020px;">En attente</div>
<div class="t" style="left:1450.0px;top:386.0px;font-size:27.5px;line-height:27.5px;color:#e1e1e1;font-weight:700;letter-spacing:-0.407px;">Coût ce jour : 1.0 €</div>
<svg class="i" style="left:1306px;top:486.9px;filter:drop-shadow(0 1px 3px rgba(0,0,0,.55))" width="72" height="72" viewBox="0 0 24 24"><path fill="#fff" fill-rule="evenodd" d="M12.67,4H11V2H5V4H3.33A1.33,1.33 0 0,0 2,5.33V20.67C2,21.4 2.6,22 3.33,22H12.67C13.4,22 14,21.4 14,20.67V5.33C14,4.6 13.4,4 12.67,4ZM4,6H12V8.9H4ZM23,11H20V4L15,14H18V22Z"/></svg>
<div class="t" style="left:1474.0px;top:494.0px;font-size:22px;line-height:22px;color:#fff;font-weight:700;letter-spacing:-0.857px;">Consigne de Charge à 80%</div>
<div class="t" style="left:1513.3px;top:532.0px;font-size:18px;line-height:18px;color:#f2f8ee;letter-spacing:0.090px;">% Batterie actuel: 53%</div>
<div class="abs" style="left:1305.3px;top:571.3px;width:528px;height:9.6px;border-radius:5px;background:#7fa46c"></div>
<div class="abs" style="left:1305.3px;top:571.3px;width:279.5px;height:9.6px;border-radius:5px;background:#109cd6"></div>
<div class="t" style="left:914.0px;top:442.0px;font-size:25.5px;line-height:25.5px;color:#e1e1e1;letter-spacing:0.150px;">Prise</div>
<svg class="i" style="left:880px;top:360px" width="130" height="120" viewBox="0 0 1920 1772"><defs><linearGradient id="pg1" x1="0" y1="0" x2="1" y2="1"><stop offset="0" stop-color="#2459aa"/><stop offset=".5" stop-color="#1c4c98"/><stop offset="1" stop-color="#133872"/></linearGradient><linearGradient id="pg2" x1="0" y1="0" x2="0" y2="1"><stop offset="0" stop-color="#2358a8"/><stop offset=".6" stop-color="#1b4b96"/><stop offset="1" stop-color="#5f80b8"/></linearGradient><filter id="pb" x="-10%" y="-10%" width="120%" height="120%"><feGaussianBlur stdDeviation="9"/></filter></defs><g filter="url(#pb)"><path d="M840 262L1000 258L1250 275L1480 325L1590 420L1610 560L1560 700L1440 790L1250 800L1090 760L960 720L850 680L760 770L690 900L620 1010L500 1050L460 1080L420 1120L340 1150L290 1110L285 1060L330 980L345 830L450 700L560 560L680 420L770 310Z" fill="url(#pg1)"/><path d="M850 680L960 720L1090 760L1250 800L1100 700L1030 560L860 520L800 600L700 800L560 1030L620 1010L690 900L760 770Z" fill="#5f83c2" opacity=".4"/><path d="M1060 300L1480 325L1590 420L1610 560L1560 700L1440 790L1250 800L1090 760C1020 620 1020 440 1060 300Z" fill="url(#pg2)"/></g><ellipse cx="1425" cy="565" rx="172" ry="222" transform="rotate(8 1425 565)" fill="#08152e" stroke="#2560b6" stroke-width="34"/><circle cx="1345" cy="455" r="26" fill="#27569e" stroke="#2a5aa6" stroke-width="20"/><circle cx="1445" cy="435" r="26" fill="#27569e" stroke="#2a5aa6" stroke-width="20"/><circle cx="1295" cy="555" r="30" fill="#b9a78c" stroke="#2a5aa6" stroke-width="20"/><circle cx="1400" cy="535" r="30" fill="#b9a78c" stroke="#2a5aa6" stroke-width="20"/><circle cx="1505" cy="520" r="30" fill="#d9d0c0" stroke="#2a5aa6" stroke-width="20"/><circle cx="1345" cy="665" r="30" fill="#b9a78c" stroke="#2a5aa6" stroke-width="20"/><circle cx="1455" cy="635" r="30" fill="#b9a78c" stroke="#2a5aa6" stroke-width="20"/><circle cx="1160" cy="572" r="14" fill="#123266"/></svg>
<svg class="i" style="left:1536.2px;top:1470.2px;" width="65.8" height="65.8" viewBox="0 0 24 24"><path fill="#a5a5a5" d="M5,11L6.5,6.5H17.5L19,11M17.5,16A1.5,1.5 0 0,1 16,14.5A1.5,1.5 0 0,1 17.5,13A1.5,1.5 0 0,1 19,14.5A1.5,1.5 0 0,1 17.5,16M6.5,16A1.5,1.5 0 0,1 5,14.5A1.5,1.5 0 0,1 6.5,13A1.5,1.5 0 0,1 8,14.5A1.5,1.5 0 0,1 6.5,16M18.92,6C18.72,5.42 18.16,5 17.5,5H6.5C5.84,5 5.28,5.42 5.08,6L3,12V20A1,1 0 0,0 4,21H5A1,1 0 0,0 6,20V19H18V20A1,1 0 0,0 19,21H20A1,1 0 0,0 21,20V12L18.92,6Z"/></svg>
<div class="t" style="left:1507.7px;top:1539.0px;font-size:21.6px;line-height:21.6px;color:#989898;font-weight:700;letter-spacing:-0.663px;">Chargeur R5</div>
<div class="t" style="left:1516.0px;top:1565.0px;font-size:25px;line-height:25px;color:#a2a2a2;letter-spacing:0.135px;">désactivé</div>
<svg class="i" style="left:1538px;top:1641.3px;" width="64" height="64" viewBox="0 0 24 24"><path fill="#a38022" d="M12,2A10,10 0 0,0 2,12A10,10 0 0,0 12,22A10,10 0 0,0 22,12A10,10 0 0,0 12,2M16.2,16.2L11,13V7H12.5V12.2L17,14.9L16.2,16.2Z"/></svg>
<div class="t" style="left:1475.0px;top:1707.0px;font-size:21.6px;line-height:21.6px;color:#a98626;font-weight:700;letter-spacing:-0.955px;">Heures creuses nuit</div>
<div class="t" style="left:1544.0px;top:1732.0px;font-size:19.5px;line-height:19.5px;color:#93802a;letter-spacing:0.012px;">activé</div>
<svg class="i" style="left:1534.2px;top:1799.8px;" width="64" height="64" viewBox="0 0 24 24"><path fill="#4c8ac8" d="M12,7A5,5 0 0,1 17,12A5,5 0 0,1 12,17A5,5 0 0,1 7,12A5,5 0 0,1 12,7M12,9A3,3 0 0,0 9,12A3,3 0 0,0 12,15A3,3 0 0,0 15,12A3,3 0 0,0 12,9M12,2L14.39,5.42C13.65,5.15 12.84,5 12,5C11.16,5 10.35,5.15 9.61,5.42L12,2M3.34,7L7.5,6.65C6.9,7.16 6.36,7.78 5.94,8.5C5.5,9.24 5.25,10 5.11,10.79L3.34,7M3.36,17L5.12,13.23C5.26,14 5.53,14.78 5.95,15.5C6.37,16.24 6.91,16.86 7.5,17.37L3.36,17M20.65,7L18.88,10.79C18.74,10 18.47,9.23 18.05,8.5C17.63,7.78 17.1,7.15 16.5,6.64L20.65,7M20.64,17L16.5,17.36C17.09,16.85 17.62,16.22 18.04,15.5C18.46,14.77 18.73,14 18.87,13.21L20.64,17M12,22L9.59,18.56C10.33,18.83 11.14,19 12,19C12.82,19 13.63,18.83 14.37,18.56L12,22Z"/></svg>
<svg class="i" style="left:653.5px;top:1098px" width="580" height="432" viewBox="653.5 1098 580 432"><defs><clipPath id="mc"><rect x="655.5" y="1100" width="576" height="428" rx="17"/></clipPath><clipPath id="lc"><path d="M656.5 1402.2L665.6 1397.5L670.0 1404.0L675.0 1410.0L678.1 1422.5L682.8 1419.4L689.0 1410.0L696.9 1406.9L704.7 1410.0L712.5 1416.3L707.8 1403.8L714.0 1397.5L723.4 1394.4L732.8 1391.3L731.3 1399.0L734.4 1406.9L743.8 1411.6L759.4 1412.3L775.0 1409.2L790.6 1405.3L798.4 1400.6L787.5 1397.5L779.7 1389.7L773.4 1378.8L770.3 1361.6L773.4 1341.3L773.4 1319.4L768.8 1312.0L766.4 1313.8L767.2 1298.0L766.4 1282.5L762.5 1276.3L757.8 1266.9L753.1 1257.5L746.9 1249.7L739.0 1243.4L737.5 1232.5L731.3 1220.0L728.1 1210.6L732.8 1201.3L731.3 1188.8L725.0 1179.4L723.4 1171.6L731.3 1170.8L737.5 1176.3L750.0 1180.2L762.5 1182.5L775.0 1184.0L782.8 1179.4L787.5 1174.7L798.4 1171.6L809.4 1173.9L815.6 1176.3L818.8 1184.0L820.3 1190.3L814.0 1198.0L809.4 1204.4L812.5 1213.8L818.8 1223.0L825.0 1232.5L829.7 1240.3L831.3 1245.0L826.6 1252.7L832.8 1249.7L839.0 1245.0L846.9 1241.9L859.4 1241.0L868.8 1244.2L884.4 1248.9L900.0 1251.3L915.6 1252.8L931.3 1253.6L947.5 1259.0L960.0 1265.3L974.0 1263.0L988.1 1259.0L1000.6 1252.8L1010.0 1245.0L1019.4 1237.2L1028.8 1234.0L1041.3 1232.5L1050.6 1229.4L1064.7 1223.1L1044.4 1227.8L1028.8 1227.0L1016.3 1224.7L1011.6 1218.4L1013.1 1204.4L1016.3 1188.8L1019.4 1179.4L1028.8 1170.0L1044.4 1160.6L1060.0 1149.7L1075.6 1140.3L1091.3 1134.0L1106.9 1129.4L1122.5 1126.3L1138.1 1123.1L1153.8 1118.4L1166.3 1112.2L1175.6 1106.0L1182.0 1099.0L1232.0 1099.0L1232.0 1529.0L655.0 1529.0ZM675.0 1271.6L682.8 1273.1L690.6 1278.6L701.6 1280.2L708.1 1282.5L707.0 1288.0L701.6 1290.3L692.2 1289.5L685.2 1288.0L679.7 1283.3L677.3 1277.0Z"/></clipPath><filter id="mot" x="0" y="0" width="100%" height="100%" color-interpolation-filters="sRGB"><feTurbulence type="fractalNoise" baseFrequency=".05" numOctaves="4" seed="11"/><feColorMatrix type="matrix" values="0 0 0 0 .29  0 0 0 0 .35  0 0 0 0 .28  0 4.5 0 0 -2.45"/></filter><filter id="mot2" x="0" y="0" width="100%" height="100%" color-interpolation-filters="sRGB"><feTurbulence type="fractalNoise" baseFrequency=".5" numOctaves="2" seed="3"/><feColorMatrix type="matrix" values="0 0 0 0 .45  0 0 0 0 .5  0 0 0 0 .42  0 .9 0 0 -.3"/></filter><filter id="halo" x="-20%" y="-30%" width="140%" height="160%"><feMorphology in="SourceAlpha" operator="dilate" radius="1.2" result="d"/><feGaussianBlur in="d" stdDeviation=".9" result="b"/><feFlood flood-color="#1b1f1c" flood-opacity=".95"/><feComposite in2="b" operator="in" result="s"/><feMerge><feMergeNode in="s"/><feMergeNode in="SourceGraphic"/></feMerge></filter></defs><g clip-path="url(#mc)"><rect x="653" y="1098" width="582" height="434" fill="#4e6569"/><path d="M656.0 1124.0L675.0 1121.0L723.4 1120.0L737.5 1123.1L750.0 1128.6L759.4 1132.2L775.0 1128.6L790.6 1123.9L806.3 1123.1L821.9 1126.3L837.5 1134.1L850.0 1145.0L859.4 1160.6L865.6 1176.3L870.3 1188.8L876.6 1196.6L887.5 1202.8L895.3 1205.9L907.8 1203.6L931.3 1202.8L950.6 1205.2L962.3 1207.5L966.3 1191.9L970.2 1176.3L974.0 1162.2L981.9 1149.7L994.4 1138.8L1010.0 1127.8L1028.8 1118.4L1044.4 1110.6L1058.0 1101.0" fill="none" stroke="#9eadb7" stroke-width="2.4" stroke-linejoin="round"/><path d="M693.8 1214.0L696.1 1224.7L690.6 1235.6L681.3 1245.0L668.8 1254.4L656.0 1260.0" fill="none" stroke="#9eadb7" stroke-width="2.4" stroke-linejoin="round"/><path d="M696.1 1224.7L703.1 1235.6L715.6 1248.1L728.1 1262.2L734.4 1274.7L735.2 1290.3L731.3 1310.0L723.4 1325.6L712.5 1339.7L712.5 1349.0L707.8 1353.8L689.0 1355.3L673.4 1354.5L656.0 1349.0" fill="none" stroke="#9eadb7" stroke-width="2.4" stroke-linejoin="round"/><path d="M656.5 1402.2L665.6 1397.5L670.0 1404.0L675.0 1410.0L678.1 1422.5L682.8 1419.4L689.0 1410.0L696.9 1406.9L704.7 1410.0L712.5 1416.3L707.8 1403.8L714.0 1397.5L723.4 1394.4L732.8 1391.3L731.3 1399.0L734.4 1406.9L743.8 1411.6L759.4 1412.3L775.0 1409.2L790.6 1405.3L798.4 1400.6L787.5 1397.5L779.7 1389.7L773.4 1378.8L770.3 1361.6L773.4 1341.3L773.4 1319.4L768.8 1312.0L766.4 1313.8L767.2 1298.0L766.4 1282.5L762.5 1276.3L757.8 1266.9L753.1 1257.5L746.9 1249.7L739.0 1243.4L737.5 1232.5L731.3 1220.0L728.1 1210.6L732.8 1201.3L731.3 1188.8L725.0 1179.4L723.4 1171.6L731.3 1170.8L737.5 1176.3L750.0 1180.2L762.5 1182.5L775.0 1184.0L782.8 1179.4L787.5 1174.7L798.4 1171.6L809.4 1173.9L815.6 1176.3L818.8 1184.0L820.3 1190.3L814.0 1198.0L809.4 1204.4L812.5 1213.8L818.8 1223.0L825.0 1232.5L829.7 1240.3L831.3 1245.0L826.6 1252.7L832.8 1249.7L839.0 1245.0L846.9 1241.9L859.4 1241.0L868.8 1244.2L884.4 1248.9L900.0 1251.3L915.6 1252.8L931.3 1253.6L947.5 1259.0L960.0 1265.3L974.0 1263.0L988.1 1259.0L1000.6 1252.8L1010.0 1245.0L1019.4 1237.2L1028.8 1234.0L1041.3 1232.5L1050.6 1229.4L1064.7 1223.1L1044.4 1227.8L1028.8 1227.0L1016.3 1224.7L1011.6 1218.4L1013.1 1204.4L1016.3 1188.8L1019.4 1179.4L1028.8 1170.0L1044.4 1160.6L1060.0 1149.7L1075.6 1140.3L1091.3 1134.0L1106.9 1129.4L1122.5 1126.3L1138.1 1123.1L1153.8 1118.4L1166.3 1112.2L1175.6 1106.0L1182.0 1099.0L1232.0 1099.0L1232.0 1529.0L655.0 1529.0ZM675.0 1271.6L682.8 1273.1L690.6 1278.6L701.6 1280.2L708.1 1282.5L707.0 1288.0L701.6 1290.3L692.2 1289.5L685.2 1288.0L679.7 1283.3L677.3 1277.0Z" fill="#282b24" stroke="#75878a" stroke-width="1.6" stroke-linejoin="round"/><g clip-path="url(#lc)"><rect x="655" y="1100" width="578" height="430" filter="url(#mot)" opacity=".8"/><rect x="655" y="1100" width="578" height="430" filter="url(#mot2)" opacity=".25"/></g><path d="M773.4 1410.0L778.1 1422.5L782.8 1435.0L790.6 1442.8L800.0 1444.4L806.3 1436.6L815.6 1427.2L826.6 1430.3L842.2 1433.4L857.8 1436.6L865.6 1431.9L875.0 1439.7L887.5 1447.5L893.8 1444.4L903.1 1447.5L915.6 1438.1L931.3 1433.4L947.5 1435.0L960.0 1425.6L972.5 1428.8L975.6 1444.4L986.6 1449.0L991.3 1460.0L1003.8 1460.0L1014.7 1446.0" fill="none" stroke="#8f9896" stroke-width="1.9" stroke-linejoin="round"/><path d="M842.2 1433.4L843.8 1450.6L845.3 1466.3L840.6 1481.9L842.2 1497.5L845.3 1513.1L846.9 1527.0" fill="none" stroke="#8f9896" stroke-width="1.9" stroke-linejoin="round"/><path d="M1017.8 1446.0L1036.6 1439.7L1047.5 1446.0L1051.4 1460.0L1053.8 1472.5L1067.8 1478.8L1075.6 1489.7L1088.1 1488.1L1096.0 1494.4L1102.2 1504.0" fill="none" stroke="#8f9896" stroke-width="1.9" stroke-linejoin="round"/><path d="M1208.4 1310.0L1210.0 1325.6L1213.1 1338.1L1206.9 1346.0L1200.6 1355.3L1192.8 1363.1L1194.4 1372.5L1185.0 1377.2L1169.4 1378.8L1156.9 1374.8L1150.6 1381.9L1136.6 1386.6L1122.5 1391.3L1114.7 1399.0L1116.3 1410.0L1127.2 1422.5L1135.0 1435.0L1133.4 1449.0L1130.3 1458.4L1117.8 1467.8L1106.9 1477.2L1111.6 1486.6L1116.3 1497.5L1114.7 1504.0" fill="none" stroke="#8f9896" stroke-width="1.9" stroke-linejoin="round"/><path d="M1231.0 1332.0L1221.0 1341.0L1225.6 1357.0L1224.0 1372.5L1231.0 1381.0" fill="none" stroke="#8f9896" stroke-width="1.9" stroke-linejoin="round"/><path d="M1200.0 1298.0L1208.4 1310.0" fill="none" stroke="#8f9896" stroke-width="1.9" stroke-linejoin="round"/><path d="M1225.6 1388.0L1231.0 1404.0" fill="none" stroke="#8f9896" stroke-width="1.9" stroke-linejoin="round"/><path d="M771.9 1182.5L768.0 1191.9L771.9 1202.8L779.7 1212.2L785.9 1217.7L795.3 1220.0L802.3 1226.3L807.8 1235.6L812.5 1245.0L818.8 1254.4L825.0 1259.0L829.7 1260.6" fill="none" stroke="#c9959f" stroke-width="1.7" stroke-linejoin="round" stroke-linecap="round"/><path d="M829.7 1260.6L839.0 1259.0L845.3 1252.8L857.8 1252.0L868.8 1256.0L881.3 1260.6L890.6 1265.3L893.8 1270.0L906.3 1273.1L918.8 1277.8L931.3 1282.5L940.6 1284.0L946.0 1286.0" fill="none" stroke="#c9959f" stroke-width="1.7" stroke-linejoin="round" stroke-linecap="round"/><path d="M829.7 1260.6L831.3 1266.9L835.9 1276.3L835.2 1285.6L829.7 1293.4L828.1 1298.1L832.8 1302.8L843.8 1307.5L850.0 1313.8L854.7 1319.4L859.4 1330.3" fill="none" stroke="#c9959f" stroke-width="1.7" stroke-linejoin="round" stroke-linecap="round"/><path d="M950.6 1290.3L935.9 1290.3L923.4 1293.4L915.6 1296.6L909.4 1304.4L903.1 1310.0L884.4 1317.8L868.8 1325.6L859.4 1330.3L843.8 1341.3L829.7 1352.2L818.8 1361.6L815.6 1372.5L812.5 1383.4L806.3 1391.3L800.0 1397.5L804.7 1406.9L806.3 1419.4L804.7 1435.0L807.8 1450.6L810.9 1466.3L809.4 1472.5L800.0 1478.8L790.6 1488.1L781.3 1497.5L775.0 1505.3L771.9 1517.8L759.4 1527.0" fill="none" stroke="#c9959f" stroke-width="1.7" stroke-linejoin="round" stroke-linecap="round"/><path d="M1035.0 1218.4L1044.4 1204.4L1056.9 1199.7L1067.8 1193.4L1083.4 1188.8L1099.1 1186.4L1111.6 1184.1L1130.3 1180.9L1136.6 1184.8L1145.9 1187.2L1161.6 1187.2L1178.8 1184.1L1188.1 1177.8L1197.5 1170.0L1208.4 1162.2L1213.1 1149.7L1220.9 1135.6L1231.0 1124.0" fill="none" stroke="#c9959f" stroke-width="1.7" stroke-linejoin="round" stroke-linecap="round"/><path d="M1155.3 1124.7L1156.9 1135.6L1150.6 1141.9L1149.1 1157.5L1145.9 1176.3L1146.7 1188.8L1147.5 1201.3L1139.7 1212.2" fill="none" stroke="#c9959f" stroke-width="1.7" stroke-linejoin="round" stroke-linecap="round"/><path d="M1111.6 1184.8L1120.9 1195.0L1130.3 1207.5L1139.7 1212.2" fill="none" stroke="#c9959f" stroke-width="1.7" stroke-linejoin="round" stroke-linecap="round"/><path d="M1178.8 1184.1L1180.3 1196.6L1175.6 1207.5L1166.3 1216.9L1154.5 1230.6L1147.0 1243.0L1144.4 1251.3" fill="none" stroke="#c9959f" stroke-width="1.7" stroke-linejoin="round" stroke-linecap="round"/><path d="M1208.4 1162.2L1218.0 1166.0L1231.0 1167.0" fill="none" stroke="#c9959f" stroke-width="1.7" stroke-linejoin="round" stroke-linecap="round"/><path d="M935.0 1284.8L950.6 1290.3L966.3 1288.8L975.6 1279.4L988.1 1274.7L1010.0 1268.4L1022.5 1265.3L1035.0 1259.0L1047.5 1254.4L1060.0 1248.1L1070.9 1241.1L1081.9 1241.9L1091.3 1245.0L1106.9 1247.3L1116.3 1248.1L1130.3 1251.3L1144.4 1251.3L1152.2 1252.8L1158.4 1263.8L1166.3 1273.1L1174.1 1285.6L1185.0 1298.1L1200.6 1313.8L1206.9 1319.4L1231.0 1324.0" fill="none" stroke="#c9959f" stroke-width="1.7" stroke-linejoin="round" stroke-linecap="round"/><path d="M1035.0 1218.4L1036.6 1231.0L1028.8 1245.0L1031.9 1252.8L1041.3 1257.5" fill="none" stroke="#c9959f" stroke-width="1.7" stroke-linejoin="round" stroke-linecap="round"/><path d="M1035.0 1218.4L1053.8 1220.0L1067.8 1224.7L1075.6 1232.5L1081.9 1241.9" fill="none" stroke="#c9959f" stroke-width="1.7" stroke-linejoin="round" stroke-linecap="round"/><path d="M1116.3 1248.9L1113.1 1260.6L1106.9 1268.4L1108.4 1279.4L1103.8 1288.8L1091.3 1293.4L1075.6 1299.7L1067.8 1309.1L1060.0 1325.6L1055.3 1341.3L1050.6 1356.9L1044.4 1372.5L1035.0 1383.4L1028.8 1396.0L1024.0 1410.0L1021.0 1425.6L1014.7 1438.1L1014.7 1447.5L1011.6 1460.0L1011.6 1469.4L1017.8 1477.2L1021.0 1489.7L1021.7 1504.0" fill="none" stroke="#c9959f" stroke-width="1.7" stroke-linejoin="round" stroke-linecap="round"/><path d="M1166.3 1273.1L1164.7 1290.3L1166.3 1310.0L1167.8 1325.6L1164.7 1349.0L1167.8 1375.6" fill="none" stroke="#c9959f" stroke-width="1.7" stroke-linejoin="round" stroke-linecap="round"/><path d="M958.4 1268.4L952.0 1280.0L950.6 1290.3L948.0 1300.0L953.0 1310.0L960.0 1325.6L967.8 1341.3L966.3 1352.2L977.2 1364.7L981.9 1377.2L989.7 1389.7L1000.6 1397.5L1013.1 1403.8L1024.0 1406.0" fill="none" stroke="#c9959f" stroke-width="1.7" stroke-linejoin="round" stroke-linecap="round"/><path d="M657.0 1455.3L673.4 1452.2L689.0 1449.0L700.0 1442.8L704.7 1433.4L709.4 1428.0L720.3 1426.4L743.8 1423.3L767.2 1421.3L784.4 1421.7L795.3 1414.7L804.7 1407.7" fill="none" stroke="#c9959f" stroke-width="1.7" stroke-linejoin="round" stroke-linecap="round"/><path d="M712.5 1410.0L720.3 1422.5L723.4 1435.0L720.3 1447.5L725.0 1460.0L732.8 1474.0L742.2 1486.6L748.4 1497.5L753.1 1511.6L756.3 1518.6" fill="none" stroke="#c9959f" stroke-width="1.7" stroke-linejoin="round" stroke-linecap="round"/><path d="M657.0 1460.8L665.6 1466.3L676.6 1475.6L687.5 1485.0L695.3 1495.9L701.6 1499.0L712.5 1502.2L723.4 1505.3L737.5 1511.6L753.1 1518.6" fill="none" stroke="#c9959f" stroke-width="1.7" stroke-linejoin="round" stroke-linecap="round"/><path d="M657.0 1501.4L673.4 1499.8L682.8 1505.3L690.6 1499.8L701.6 1499.0" fill="none" stroke="#c9959f" stroke-width="1.7" stroke-linejoin="round" stroke-linecap="round"/><path d="M745.0 1527.0L756.3 1518.6L771.9 1517.8L790.6 1521.0L806.3 1525.6L830.0 1527.0" fill="none" stroke="#c9959f" stroke-width="1.7" stroke-linejoin="round" stroke-linecap="round"/><path d="M867.2 1494.4L868.8 1506.9L875.0 1517.8L882.8 1517.0L893.8 1521.0L903.1 1527.0" fill="none" stroke="#c9959f" stroke-width="1.7" stroke-linejoin="round" stroke-linecap="round"/><path d="M898.4 1508.4L890.6 1519.4" fill="none" stroke="#c9959f" stroke-width="1.7" stroke-linejoin="round" stroke-linecap="round"/><path d="M866.0 1527.0L875.0 1517.8" fill="none" stroke="#c9959f" stroke-width="1.7" stroke-linejoin="round" stroke-linecap="round"/><path d="M997.5 1448.3L1014.7 1444.4L1036.6 1439.7L1044.4 1435.0L1060.0 1431.9L1078.8 1424.8" fill="none" stroke="#c9959f" stroke-width="1.7" stroke-linejoin="round" stroke-linecap="round"/><path d="M1231.0 1440.0L1219.4 1444.4L1211.6 1455.3L1200.6 1466.3L1185.0 1475.6L1169.4 1483.4L1153.8 1491.3L1138.1 1495.9L1122.5 1500.6L1111.6 1504.0" fill="none" stroke="#c9959f" stroke-width="1.7" stroke-linejoin="round" stroke-linecap="round"/><path d="M1196.0 1382.7L1216.3 1377.2L1231.0 1374.0" fill="none" stroke="#c9959f" stroke-width="1.7" stroke-linejoin="round" stroke-linecap="round"/><path d="M1193.6 1395.2L1200.6 1416.3L1206.9 1435.0" fill="none" stroke="#c9959f" stroke-width="1.7" stroke-linejoin="round" stroke-linecap="round"/><path d="M1088.0 1421.0L1097.5 1413.5" fill="none" stroke="#c9959f" stroke-width="1.7" stroke-linejoin="round" stroke-linecap="round"/><path d="M976.0 1390.5L988.0 1388.2" fill="none" stroke="#c9959f" stroke-width="1.7" stroke-linejoin="round" stroke-linecap="round"/><path d="M809.4 1472.5L815.0 1467.5L820.0 1467.5" fill="none" stroke="#c9959f" stroke-width="1.7" stroke-linejoin="round" stroke-linecap="round"/><path d="M1016 1226L1040 1229.5L1064 1223.5L1046 1231L1024 1235Z" fill="#4e6569"/><circle cx="1012.7" cy="1218.4" r="2.3" fill="#2a2a2a" stroke="#ddd" stroke-width="1.3"/><circle cx="1154.5" cy="1230.6" r="2.3" fill="#2a2a2a" stroke="#ddd" stroke-width="1.3"/><circle cx="756.3" cy="1518.6" r="3.2" fill="#2a2a2a" stroke="#ddd" stroke-width="1.3"/><g class="mapl" filter="url(#halo)" stroke-width=".3"><text x="980.3" y="1212.2" font-size="12.8" fill="#f4f4f4" stroke="#f4f4f4" textLength="64" lengthAdjust="spacingAndGlyphs">Le Havre</text><text x="1130.3" y="1223.9" font-size="12.8" fill="#f4f4f4" stroke="#f4f4f4" textLength="47" lengthAdjust="spacingAndGlyphs">Rouen</text><text x="724.2" y="1510.8" font-size="15" fill="#f4f4f4" stroke="#f4f4f4" textLength="64" lengthAdjust="spacingAndGlyphs">Rennes</text><text x="958.4" y="1303.6" font-size="13" fill="#cfcfcf" font-style="italic" textLength="87" lengthAdjust="spacingAndGlyphs">Normandie</text><text x="637.5" y="1206.7" font-size="19.5" fill="#e8e8e8" letter-spacing="1.2">nsey</text><text x="646" y="1299.7" font-size="19.5" fill="#e8e8e8" letter-spacing="1.2">Jersey</text></g></g><rect x="655" y="1099.5" width="577" height="429" rx="18.5" fill="none" stroke="#8fc0fb" stroke-width="3.2"/></svg>
<div class="abs" style="left:675.8px;top:1120.8px;width:47.3px;height:95.3px;background:#1c1c1c;border-radius:4px;box-shadow:0 1px 5px rgba(0,0,0,.5)"></div>
<div class="abs" style="left:675.8px;top:1167.6px;width:47.3px;height:1.6px;background:#cfcfcf"></div>
<div class="t" style="left:676.8px;top:1122.2px;width:47.3px;height:46.8px;line-height:46.8px;text-align:center;font-size:39px;font-weight:700;color:#fff">+</div>
<div class="t" style="left:676.4px;top:1170.8px;width:47.3px;height:46.8px;line-height:46.8px;text-align:center;font-size:39px;font-weight:700;color:#fff">−</div>
<svg class="i" style="left:680.5px;top:1244.2px;" width="38" height="38" viewBox="0 0 24 24"><path fill="#fff" d="M12,9A3,3 0 0,0 9,12A3,3 0 0,0 12,15A3,3 0 0,0 15,12A3,3 0 0,0 12,9M19,19H15V21H19A2,2 0 0,0 21,19V15H19M19,3H15V5H19V9H21V5A2,2 0 0,0 19,3M5,5H9V3H5A2,2 0 0,0 3,5V9H5M5,15H3V19A2,2 0 0,0 5,21H9V19H5V15Z"/></svg>
<div class="abs" style="left:994.8px;top:1503.2px;width:235.7px;height:23.8px;background:rgba(12,12,12,.92);border-bottom-right-radius:15px"></div>
<div class="abs" style="left:1002.2px;top:1509.5px;width:17px;height:5.7px;background:#4c7be1"></div><div class="abs" style="left:1002.2px;top:1515.2px;width:17px;height:5.6px;background:#ffd500"></div>
<div class="t" style="left:1024.3px;top:1506.0px;font-size:16.5px;line-height:16.5px;color:#fff;letter-spacing:0.028px;">Leaflet | © OpenStreetMap</div>
</body></html>
